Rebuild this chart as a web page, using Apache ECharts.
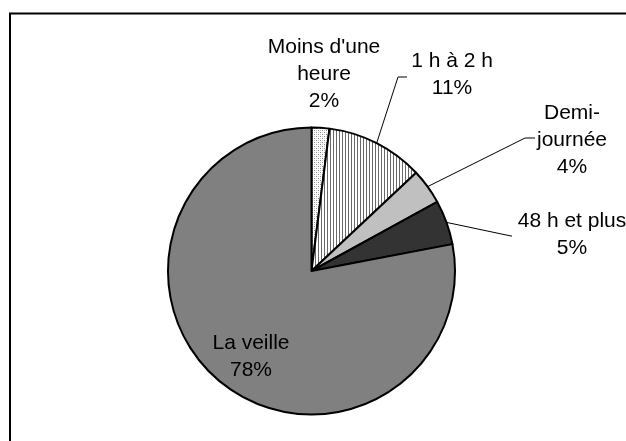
<!DOCTYPE html>
<html>
<head>
<meta charset="utf-8">
<script src="https://cdn.jsdelivr.net/npm/echarts@6/dist/echarts.min.js"></script>
<style>
  html, body { margin: 0; padding: 0; background: #fff; }
  #chart { width: 626px; height: 441px; }
</style>
</head>
<body>
<div id="chart"></div>
<script>
// Délai de réservation : répartition en pourcentage
const categories = ["Moins d'une\nheure", "1 h à 2 h", "Demi-\njournée", "48 h et plus", "La veille"];
const values = [2, 11, 4, 5, 78];

// Hachures : lignes verticales
function stripePattern() {
  const c = document.createElement('canvas');
  c.width = 3; c.height = 3;
  const g = c.getContext('2d');
  g.fillStyle = '#ffffff'; g.fillRect(0, 0, 3, 3);
  g.fillStyle = '#6a6a6a'; g.fillRect(0, 0, 1, 3);
  return c;
}
// Pointillé fin
function dotPattern() {
  const c = document.createElement('canvas');
  c.width = 4; c.height = 4;
  const g = c.getContext('2d');
  g.fillStyle = '#ffffff'; g.fillRect(0, 0, 4, 4);
  g.fillStyle = '#8a8a8a';
  g.fillRect(0, 0, 1, 1); g.fillRect(2, 2, 1, 1);
  g.fillStyle = '#c8c8c8';
  g.fillRect(2, 0, 1, 1); g.fillRect(0, 2, 1, 1);
  return c;
}

const fills = [
  { image: dotPattern(), repeat: 'repeat' },
  { image: stripePattern(), repeat: 'repeat' },
  '#c0c0c0',
  '#333333',
  '#808080'
];

// Emplacement de chaque étiquette et coude de sa ligne de rappel
const labelSpots = [
  { x: 324, y: 74, line: null },
  { x: 452, y: 75, line: [[398, 77], [407, 77]] },
  { x: 572, y: 140, line: [[525, 138], [535, 138]] },
  { x: 572, y: 235, line: [[511, 236], [512, 236]] },
  { x: 251, y: 357, line: null }
];

const chart = echarts.init(document.getElementById('chart'), null, { renderer: 'canvas' });

chart.setOption({
  animation: false,
  backgroundColor: '#ffffff',
  graphic: [{
    type: 'rect',
    shape: { x: 10, y: 13.5, width: 700, height: 500 },
    style: { fill: 'none', stroke: '#000', lineWidth: 2 },
    silent: true
  }],
  series: [{
    type: 'pie',
    center: [311.5, 271],
    radius: 143.5,
    startAngle: 90,
    clockwise: true,
    avoidLabelOverlap: false,
    itemStyle: { borderColor: '#000', borderWidth: 2 },
    label: {
      show: true,
      position: 'outside',
      formatter: p => p.name + '\n' + p.value + '%',
      fontFamily: 'Liberation Sans, Arial, sans-serif',
      fontSize: 21,
      lineHeight: 27,
      color: '#000',
      align: 'center'
    },
    labelLine: {
      show: true,
      lineStyle: { color: '#000', width: 1 }
    },
    labelLayout: function (params) {
      const s = labelSpots[params.dataIndex];
      const out = { x: s.x, y: s.y, align: 'center', verticalAlign: 'middle' };
      if (s.line && params.labelLinePoints) {
        out.labelLinePoints = [params.labelLinePoints[0], s.line[0], s.line[1]];
      }
      return out;
    },
    data: categories.map((name, i) => ({
      name: name,
      value: values[i],
      itemStyle: { color: fills[i] },
      labelLine: { show: labelSpots[i].line !== null }
    }))
  }]
});
</script>
</body>
</html>
